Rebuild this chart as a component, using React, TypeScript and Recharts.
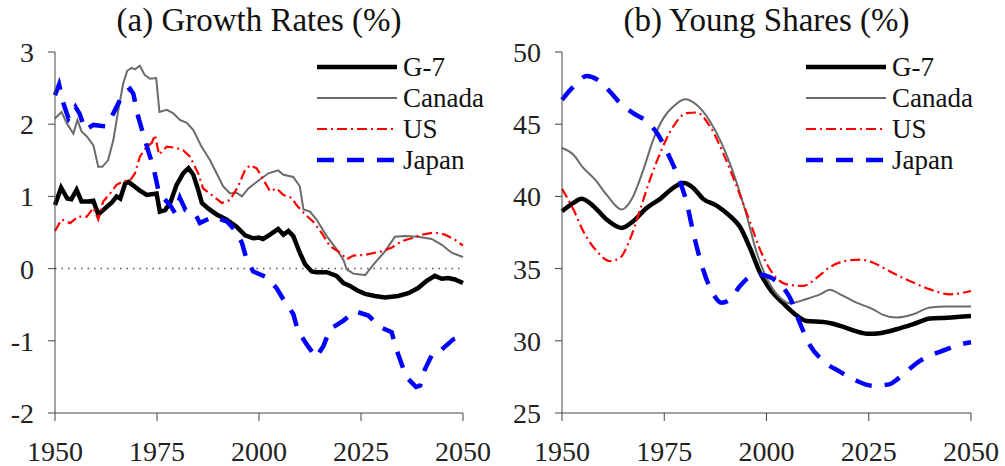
import { LineChart, Line, XAxis, YAxis, ReferenceLine } from 'recharts'

// years shown on both x axes
const yearTicks = [1950, 1975, 2000, 2025, 2050]
const growthTicks = [-2, -1, 0, 1, 2, 3]
const youngTicks = [25, 30, 35, 40, 45, 50]

// (a) growth rates, % — [year, value]
const g7Growth: [number, number][] = [
  [1950, 0.88], [1951.5, 1.12], [1953, 0.97], [1954, 0.96], [1955.3, 1.09], [1956.5, 0.93], [1958.2, 0.93],
  [1959.4, 0.94], [1960.6, 0.75], [1962, 0.82], [1964, 0.92], [1965.1, 1.0], [1966, 0.97], [1967.2, 1.18],
  [1968, 1.2], [1969.2, 1.15], [1970.8, 1.08], [1972.5, 1.02], [1974.9, 1.04], [1975.7, 0.79], [1977, 0.81],
  [1978.3, 0.92], [1979.8, 1.16], [1981.4, 1.32], [1982.7, 1.39], [1983.9, 1.3], [1985.1, 1.09], [1986, 0.91],
  [1987.6, 0.83], [1989.6, 0.75], [1992, 0.68], [1994.5, 0.58], [1996.6, 0.46], [1998.6, 0.42], [2000, 0.43],
  [2001, 0.41], [2002.7, 0.47], [2004.7, 0.55], [2006, 0.47], [2007.2, 0.52], [2008.4, 0.45], [2010, 0.22],
  [2011.3, 0.06], [2012.9, -0.04], [2014.1, -0.05], [2016.6, -0.05], [2019, -0.1], [2020.7, -0.2], [2022.3, -0.24],
  [2024, -0.3], [2026, -0.35], [2028.4, -0.38], [2030.9, -0.4], [2034.1, -0.38], [2036.6, -0.34], [2039, -0.27],
  [2041.1, -0.17], [2043.1, -0.1], [2044.8, -0.14], [2046.4, -0.13], [2048, -0.15], [2050, -0.2],
]
const canadaGrowth: [number, number][] = [
  [1950, 2.08], [1951.6, 2.17], [1952.9, 2.01], [1954.5, 1.87], [1955.5, 2.06], [1956.5, 1.9], [1957.8, 1.83],
  [1959.4, 1.71], [1960.6, 1.41], [1961.6, 1.41], [1963, 1.5], [1964.3, 1.78], [1965.5, 2.19], [1966.7, 2.56],
  [1967.7, 2.74], [1968.8, 2.78], [1969.6, 2.76], [1970.8, 2.81], [1972, 2.68], [1973.3, 2.63], [1974.8, 2.64],
  [1975.6, 2.17], [1977.4, 2.2], [1979, 2.15], [1980.6, 2.06], [1982.3, 2.02], [1983.9, 1.92], [1985.9, 1.69],
  [1988, 1.5], [1989.6, 1.32], [1991.2, 1.14], [1992.9, 1.04], [1994.5, 1.05], [1995.8, 1.0], [1997.4, 1.11],
  [1999.4, 1.2], [2002.3, 1.32], [2004.7, 1.36], [2006, 1.3], [2008.4, 1.27], [2010, 1.14], [2010.9, 0.82],
  [2012.5, 0.79], [2014.1, 0.68], [2016.6, 0.45], [2019, 0.27], [2020.7, 0.12], [2021.5, -0.01], [2023.1, -0.07],
  [2026, -0.09], [2028.4, 0.08], [2030.9, 0.24], [2033.3, 0.44], [2035.7, 0.45], [2039, 0.44], [2042.3, 0.41],
  [2044.8, 0.33], [2047.2, 0.22], [2050, 0.16],
]
const usGrowth: [number, number][] = [
  [1950, 0.52], [1951.6, 0.68], [1953.7, 0.63], [1955.7, 0.72], [1957.8, 0.72], [1959.4, 0.84], [1960.6, 0.68],
  [1961.8, 0.93], [1963.5, 1.04], [1965.1, 1.16], [1966.7, 1.21], [1968.4, 1.22], [1969.6, 1.32], [1970.8, 1.55],
  [1972.5, 1.69], [1973.7, 1.74], [1974.5, 1.85], [1975.5, 1.58], [1977.4, 1.69], [1979.8, 1.67], [1981.4, 1.64],
  [1983.1, 1.55], [1985.1, 1.32], [1986.3, 1.11], [1988.4, 1.02], [1990.9, 0.91], [1992.9, 0.95], [1994.9, 1.14],
  [1996.6, 1.37], [1997.8, 1.43], [1999.4, 1.39], [2000.7, 1.27], [2002.7, 1.07], [2004.3, 1.11], [2006, 1.02],
  [2008, 0.98], [2009.2, 0.88], [2011.3, 0.75], [2013.3, 0.65], [2015.4, 0.49], [2017.4, 0.31], [2019.9, 0.22],
  [2021.5, 0.13], [2023.1, 0.18], [2026, 0.19], [2030.1, 0.24], [2032.5, 0.29], [2035, 0.38], [2037.4, 0.42],
  [2039.9, 0.47], [2043.1, 0.5], [2045.6, 0.47], [2048, 0.4], [2050, 0.32],
]
const japanGrowth: [number, number][] = [
  [1950, 2.4], [1951, 2.55], [1952, 2.3], [1953.3, 2.08], [1955, 2.24], [1956, 2.15], [1957.4, 1.92],
  [1959.4, 1.99], [1962.3, 1.97], [1963.5, 2.06], [1965.1, 2.24], [1966.7, 2.42], [1968.4, 2.49], [1969.2, 2.42],
  [1970.4, 2.1], [1971.6, 1.87], [1972.9, 1.62], [1974.1, 1.41], [1974.9, 1.2], [1975.5, 1.04], [1978.2, 0.88],
  [1979.4, 0.77], [1980.6, 0.98], [1982, 0.81], [1984.3, 0.77], [1985.5, 0.63], [1988.8, 0.72], [1992.2, 0.65],
  [1994, 0.54], [1995.8, 0.36], [1997, 0.12], [1998.6, -0.04], [2001.9, -0.12], [2004.3, -0.27], [2006, -0.43],
  [2008.4, -0.63], [2009.6, -0.87], [2011.7, -1.05], [2014, -1.23], [2015.8, -1.07], [2017.4, -0.84],
  [2020.7, -0.72], [2023.5, -0.59], [2026.8, -0.65], [2029.7, -0.81], [2032.5, -0.88], [2033.7, -1.12],
  [2035.4, -1.39], [2036.6, -1.53], [2038.5, -1.64], [2039.5, -1.62], [2040.7, -1.39], [2042.7, -1.16],
  [2044.8, -1.12], [2047.6, -0.98], [2050, -0.93],
]

// (b) young shares, % — [year, value]
const g7Young: [number, number][] = [
  [1950, 38.97], [1952.8, 39.55], [1954.8, 39.83], [1957.7, 39.32], [1960.9, 38.4], [1964.6, 37.82], [1967.4, 38.28],
  [1970.7, 39.2], [1974, 39.83], [1977.2, 40.59], [1979.7, 40.93], [1982.1, 40.59], [1984.5, 39.83], [1987.8, 39.36],
  [1991.1, 38.63], [1993.5, 37.9], [1996, 36.4], [1998.4, 34.72], [2000.9, 33.56], [2004.1, 32.6], [2007.4, 31.75],
  [2009.8, 31.37], [2013.9, 31.3], [2016, 31.2], [2019.6, 30.88], [2022, 30.65], [2025, 30.48], [2027.7, 30.53],
  [2031.8, 30.8], [2035.9, 31.15], [2040, 31.54], [2044.1, 31.6], [2050, 31.72],
]
const canadaYoung: [number, number][] = [
  [1950, 43.35], [1952.8, 42.89], [1955.2, 41.97], [1958.1, 41.16], [1960.9, 40.12], [1964.6, 39.09], [1967, 39.78],
  [1969.9, 41.85], [1972.3, 43.92], [1974.8, 45.42], [1977.2, 46.22], [1980.1, 46.73], [1982.9, 46.34], [1986.2, 45.19],
  [1989, 43.69], [1991.9, 41.62], [1995.2, 38.63], [1997.6, 36.1], [2000, 34.37], [2003.3, 33.0], [2005.7, 32.6],
  [2009.8, 32.9], [2013.1, 33.22], [2015.5, 33.54], [2018, 33.22], [2022, 32.64], [2026.1, 32.18], [2028.5, 31.8],
  [2031.8, 31.61], [2035.9, 31.84], [2040, 32.3], [2044.1, 32.37], [2050, 32.37],
]
const usYoung: [number, number][] = [
  [1950, 40.52], [1952.8, 39.09], [1955.2, 37.59], [1958.5, 36.21], [1961.7, 35.52], [1964.2, 35.75], [1966.6, 37.02],
  [1969.1, 39.09], [1971.5, 41.16], [1974, 43.0], [1977.2, 44.84], [1980.5, 45.77], [1982.9, 45.81], [1986.2, 44.84],
  [1989.4, 43.0], [1992.7, 40.7], [1996, 38.2], [1998.4, 36.33], [2001.7, 34.6], [2004.9, 33.91], [2009, 33.8],
  [2012.3, 34.37], [2015.5, 35.1], [2019.6, 35.55], [2022.9, 35.62], [2026.5, 35.36], [2030.2, 34.8], [2035.9, 34.03],
  [2040, 33.56], [2044.9, 33.22], [2050, 33.45],
]
const japanYoung: [number, number][] = [
  [1950, 46.69], [1952.8, 47.6], [1956.1, 48.34], [1958.5, 48.11], [1961.7, 47.26], [1964.2, 46.46], [1967.4, 45.77],
  [1970.7, 45.19], [1973.5, 44.27], [1975.6, 43.12], [1978, 41.62], [1980.5, 39.55], [1982.1, 37.48], [1984.5, 34.94],
  [1987, 33.22], [1989, 32.64], [1991.1, 32.87], [1993.5, 33.79], [1996, 34.44], [1998.4, 34.58], [2000.9, 34.4],
  [2003.3, 33.9], [2005.7, 33.0], [2008.2, 31.2], [2010.6, 29.7], [2013.9, 28.6], [2018, 27.85], [2022, 27.23],
  [2026.1, 26.88], [2030.2, 27.0], [2031.8, 27.3], [2037.5, 28.61], [2044.1, 29.42], [2046.2, 29.65], [2050, 29.9],
]

const FONT = '"Liberation Serif", "Times New Roman", serif'
const AXIS = '#444'

const styles = [
  { name: 'G-7', stroke: '#000000', width: 4.5, dash: undefined },
  { name: 'Canada', stroke: '#6b6b6b', width: 2, dash: undefined },
  { name: 'US', stroke: '#ff0000', width: 2.2, dash: '10 4 2 4' },
  { name: 'Japan', stroke: '#0000ff', width: 4.5, dash: '17 13' },
]

const toPoints = (pairs: [number, number][]) => pairs.map(([year, v]) => ({ year, v }))

// drawn outside the chart so it doesn't eat into the plot area
function LegendBox({ left }: { left: number }) {
  return (
    <svg width={190} height={130} style={{ position: 'absolute', top: 51, left }}>
      {styles.map((s, i) => {
        const y = 16 + i * 31
        return (
          <g key={s.name}>
            <line x1={0} x2={80} y1={y} y2={y} stroke={s.stroke} strokeWidth={s.width} strokeDasharray={s.dash} />
            <text x={86} y={y} dy="0.35em" fontFamily={FONT} fontSize={27} fill="#111">{s.name}</text>
          </g>
        )
      })}
    </svg>
  )
}

interface PanelProps {
  title: string
  series: [number, number][][]
  ticks: number[]
  domain: [number, number]
  yWidth: number
  right: number
  legendLeft: number
  smooth?: boolean
  zeroLine?: boolean
}

function Panel({ title, series, ticks, domain, yWidth, right, legendLeft, smooth, zeroLine }: PanelProps) {
  const plotLeft = yWidth
  const plotRight = 500 - right
  return (
    <div style={{ position: 'relative', width: 500, height: 466 }}>
      <div style={{
        position: 'absolute', top: 2, left: plotLeft - 40, width: plotRight - plotLeft + 80, textAlign: 'center',
        fontFamily: FONT, fontSize: 33, color: '#111', lineHeight: '36px',
      }}>{title}</div>
      <LineChart width={500} height={466} margin={{ top: 52, right, bottom: 8, left: 0 }}>
        <XAxis
          dataKey="year" type="number" domain={[1950, 2050]} ticks={yearTicks}
          allowDuplicatedCategory={false} height={45}
          stroke={AXIS} tickSize={8} tickMargin={20}
          tick={{ fontSize: 28, fontFamily: FONT, fill: '#222' }}
        />
        <YAxis
          type="number" domain={domain} ticks={ticks} width={yWidth}
          stroke={AXIS} tickSize={7} tickMargin={14}
          tick={{ fontSize: 28, fontFamily: FONT, fill: '#222' }}
        />
        {zeroLine && <ReferenceLine y={0} stroke="#555" strokeWidth={1.5} strokeDasharray="1.5 5" />}
        {series.map((pairs, i) => (
          <Line
            key={styles[i].name}
            data={toPoints(pairs)}
            dataKey="v"
            name={styles[i].name}
            type={smooth ? 'monotone' : 'linear'}
            stroke={styles[i].stroke}
            strokeWidth={styles[i].width}
            strokeDasharray={styles[i].dash}
            dot={false}
            isAnimationActive={false}
          />
        ))}
      </LineChart>
      <LegendBox left={legendLeft} />
    </div>
  )
}

export default function App() {
  return (
    <div style={{ position: 'absolute', left: 0, top: 0, width: 1005, height: 466, background: '#fff', display: 'flex' }}>
      <Panel
        title="(a) Growth Rates (%)"
        series={[g7Growth, canadaGrowth, usGrowth, japanGrowth]}
        ticks={growthTicks} domain={[-2, 3]}
        yWidth={55} right={37} legendLeft={317} zeroLine
      />
      <Panel
        title="(b) Young Shares (%)"
        series={[g7Young, canadaYoung, usYoung, japanYoung]}
        ticks={youngTicks} domain={[25, 50]}
        yWidth={62} right={29} legendLeft={306} smooth
      />
    </div>
  )
}
